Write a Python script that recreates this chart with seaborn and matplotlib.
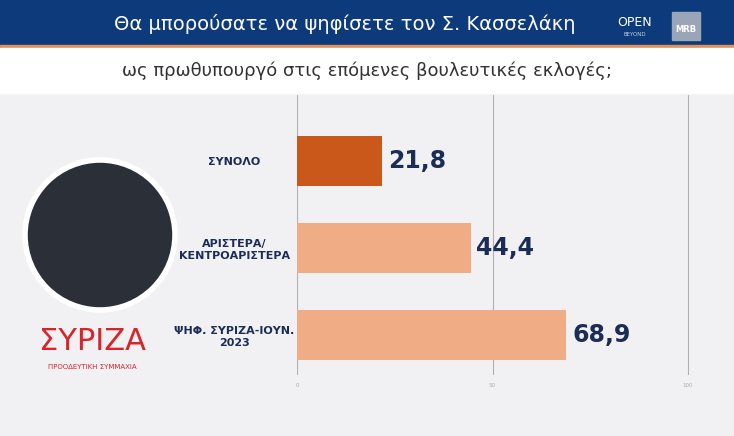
import matplotlib
matplotlib.use("Agg")
import matplotlib.pyplot as plt
import matplotlib.patches as mpatches
import seaborn as sns
import pandas as pd

# ====================================
# DADOS
# ====================================

categorias = ["ΣΥΝΟΛΟ", "ΑΡΙΣΤΕΡΑ/\nΚΕΝΤΡΟΑΡΙΣΤΕΡΑ", "ΨΗΦ. ΣΥΡΙΖΑ-ΙΟΥΝ.\n2023"]
valores = [21.8, 44.4, 68.9]
rotulos = ["21,8", "44,4", "68,9"]
cores = ["#c9581a", "#f0ad85", "#f0ad85"]
ticks = [0, 50, 100]

df = pd.DataFrame({"cat": categorias, "val": valores})

sns.set_theme(style="white")
plt.rcParams["font.family"] = ["DejaVu Sans"]

fig = plt.figure(figsize=(7.34, 4.36), dpi=100)
fig.patch.set_facecolor("#f1f1f3")

# ====================================
# CABEÇALHO
# ====================================

fig.patches.append(mpatches.Rectangle((0, 1 - 45 / 436), 1, 45 / 436,
                                      transform=fig.transFigure, color="#0d3a7a", zorder=0))
fig.patches.append(mpatches.Rectangle((0, 1 - 48 / 436), 1, 3 / 436,
                                      transform=fig.transFigure, color="#e0905a", zorder=0))
fig.patches.append(mpatches.Rectangle((0, 1 - 93 / 436), 1, 45 / 436,
                                      transform=fig.transFigure, color="white", zorder=0))
fig.text(0.47, 1 - 24 / 436, "Θα μπορούσατε να ψηφίσετε τον Σ. Κασσελάκη",
         color="white", fontsize=14, ha="center", va="center")
fig.text(0.865, 1 - 22 / 436, "OPEN", color="white", fontsize=9, ha="center", va="center")
fig.text(0.865, 1 - 34 / 436, "BEYOND", color="#c8d0e0", fontsize=4, ha="center", va="center")
fig.patches.append(mpatches.Rectangle((672 / 734, 1 - 40 / 436), 28 / 734, 28 / 436,
                                      transform=fig.transFigure, color="#9aa6b8", zorder=1))
fig.text(686 / 734, 1 - 30 / 436, "MRB", color="white", fontsize=6, ha="center",
         va="center", weight="bold")
fig.text(0.5, 1 - 71 / 436, "ως πρωθυπουργό στις επόμενες βουλευτικές εκλογές;",
         color="#333333", fontsize=13, ha="center", va="center")

# ====================================
# FOTO / LOGO
# ====================================

fig.patches.append(mpatches.Ellipse((100 / 734, 1 - 235 / 436), 150 / 734, 150 / 436,
                                    transform=fig.transFigure, facecolor="#2b2f38",
                                    edgecolor="white", linewidth=4, zorder=1))
fig.text(92 / 734, 1 - 342 / 436, "ΣΥΡΙΖΑ", color="#d8232a", fontsize=22,
         ha="center", va="center")
fig.text(92 / 734, 1 - 367 / 436, "ΠΡΟΟΔΕΥΤΙΚΗ ΣΥΜΜΑΧΙΑ", color="#d8232a", fontsize=5,
         ha="center", va="center")

# ====================================
# GRÁFICO
# ====================================

ax = fig.add_axes([297 / 734, 1 - 375 / 436, (690 - 297) / 734, 280 / 436])
ax.set_facecolor("none")

sns.barplot(data=df, x="val", y="cat", hue="cat", palette=cores, legend=False,
            width=0.575, saturation=1, linewidth=0, ax=ax, zorder=3)

ax.set_xlim(0, 100.5)
ax.set_ylim(2.46, -0.76)
ax.set_xticks(ticks)
ax.set_xticklabels([str(t) for t in ticks], fontsize=4, color="#aaaaaa")
ax.tick_params(axis="x", length=0, pad=6)
for t in ticks:
    ax.axvline(t, color="#b0b0b0", linewidth=0.8, zorder=1)
ax.set_xlabel("")
ax.set_ylabel("")
ax.set_yticks(range(len(categorias)))
ax.set_yticklabels(categorias, fontsize=8, weight="bold", color="#1c2d55",
                   ha="center")
ax.tick_params(axis="y", length=0, pad=45)
for s in ax.spines.values():
    s.set_visible(False)

for i, (v, r) in enumerate(zip(valores, rotulos)):
    ax.text(v + 1.5, i, r, va="center", ha="left", fontsize=17,
            weight="bold", color="#1c2d55")

plt.savefig("out.png", dpi=100, facecolor=fig.get_facecolor())
